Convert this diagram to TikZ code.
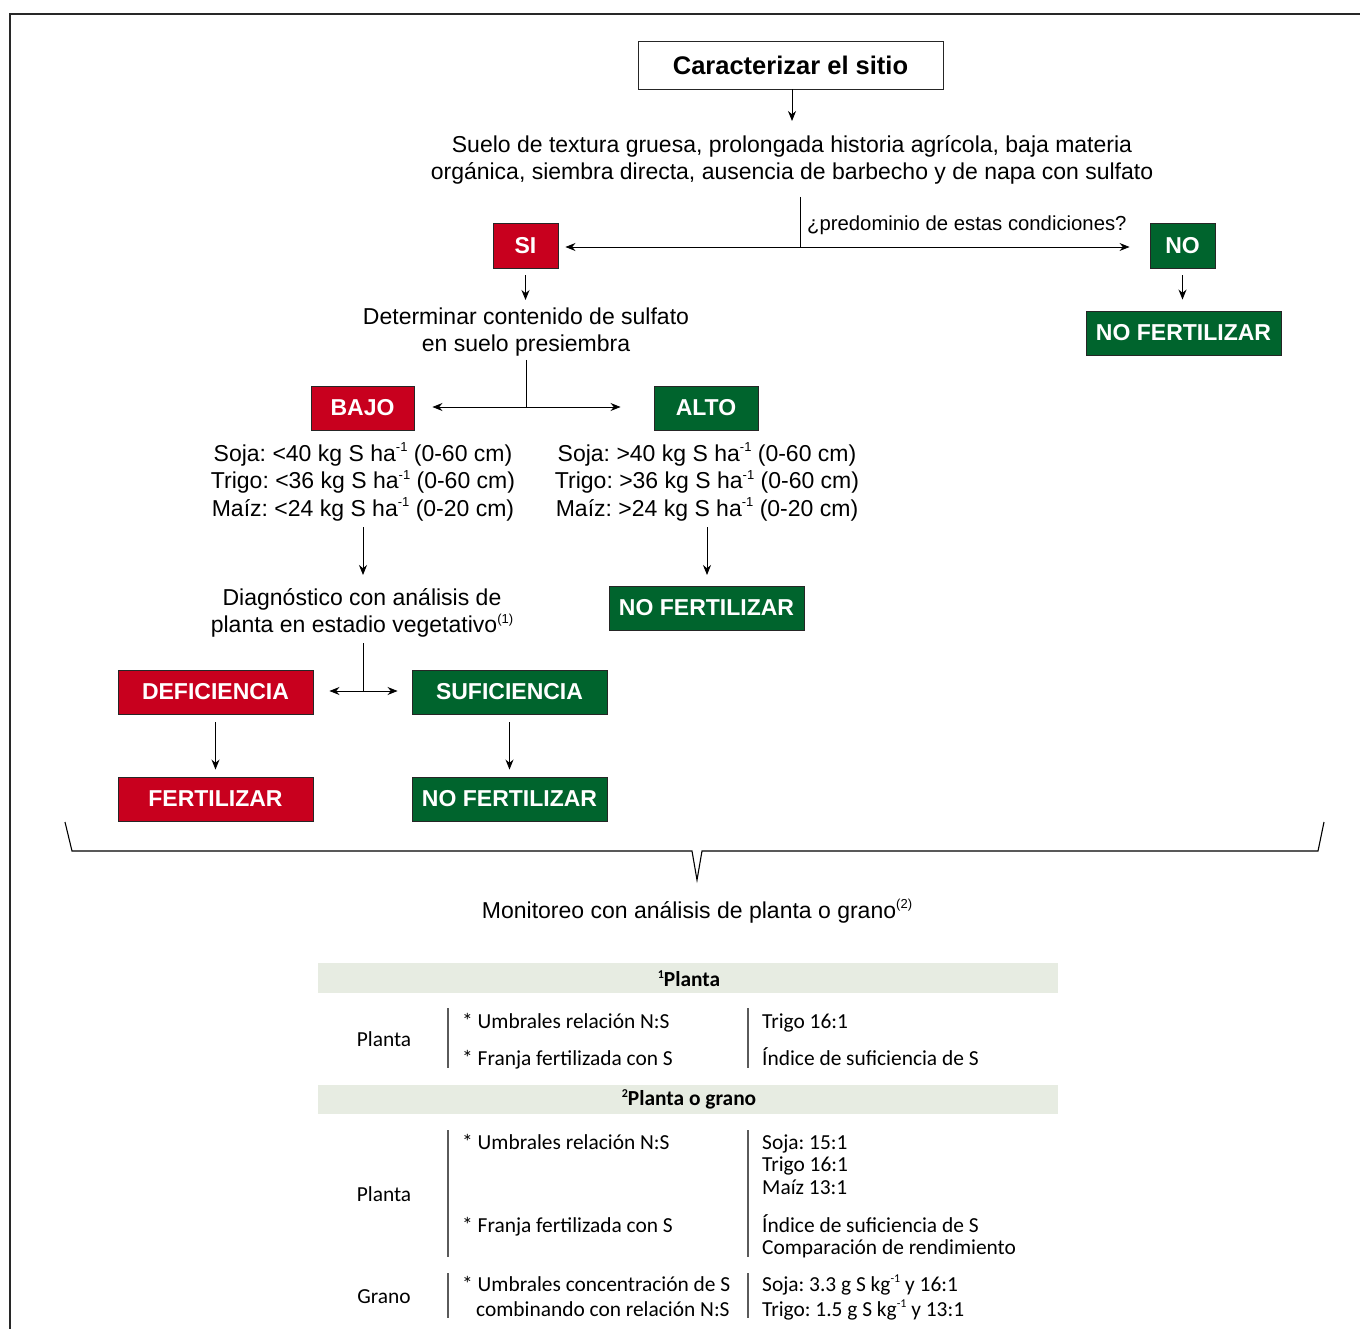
\documentclass[tikz,border=0pt]{standalone}
\usepackage{fontspec}
\setmainfont{Liberation Sans}
\newfontfamily\tabfont{Carlito}
\usetikzlibrary{arrows.meta}
\frenchspacing
\newcommand\supa[2][13]{\raisebox{0.8ex}{\fontsize{#1}{#1}\selectfont #2}}
\definecolor{rojo}{RGB}{200,0,30}
\definecolor{verde}{RGB}{0,100,45}
\definecolor{banda}{RGB}{231,236,226}
\definecolor{marco}{RGB}{40,40,40}
\definecolor{tabline}{RGB}{90,90,90}
\tikzset{
  boxbase/.style={draw=black!85, line width=0.9pt, inner sep=0pt, font=\fontsize{23}{27}\selectfont\bfseries},
  redbox/.style={boxbase, fill=rojo, text=white},
  greenbox/.style={boxbase, fill=verde, text=white},
  whitebox/.style={boxbase, fill=white, text=black, font=\fontsize{25.5}{30}\selectfont\bfseries},
  txt/.style={align=center, inner sep=0pt, font=\fontsize{23}{27.5}\selectfont},
  arr/.style={line width=0.9pt, -{Stealth[length=10pt,width=8pt]}},
  darr/.style={line width=0.9pt, {Stealth[length=10pt,width=8pt]}-{Stealth[length=10pt,width=8pt]}},
  plain/.style={line width=0.9pt},
  tb/.style={inner sep=0pt, font=\tabfont\fontsize{21.4}{22.6}\selectfont, align=left},
  tbc/.style={inner sep=0pt, font=\tabfont\fontsize{21.4}{22.6}\selectfont},
  tbh/.style={inner sep=0pt, font=\tabfont\fontsize{21.4}{22.6}\selectfont\bfseries},
  vl/.style={draw=tabline, line width=1.1pt},
}
\begin{document}
\begin{tikzpicture}[x=1pt,y=-1pt]
\useasboundingbox (0,0) rectangle (1360,1329);
% frame
\draw[marco, line width=1.5pt] (10,1329) -- (10,14) -- (1360,14);

% top
\node[whitebox, minimum width=305pt, minimum height=48pt] (car) at (790.5,65) {Caracterizar el sitio};
\coordinate (a1) at (792,121);
\draw[arr] (car.south -| a1) -- (a1);
\node[txt] (suelo) at (792,160) {Suelo de textura gruesa, prolongada historia agrícola, baja materia\\orgánica, siembra directa, ausencia de barbecho y de napa con sulfato};

\node[redbox, minimum width=65pt, minimum height=45pt] (si) at (525.5,245.5) {SI};
\node[greenbox, minimum width=65pt, minimum height=45pt] (no) at (1182.5,245.5) {NO};
\coordinate (qt) at (800,197);
\coordinate (qb) at (800,247);
\draw[plain] (qt) -- (qb);
\draw[darr, shorten <=7pt, shorten >=20pt] (si.east |- qb) -- (no.west |- qb);
\node[txt, anchor=south west, font=\fontsize{20.3}{24}\selectfont] (pred) at (807,235) {¿predominio de estas condiciones?};

\node[greenbox, minimum width=195pt, minimum height=44pt] (nf1) at (1183.5,333) {NO FERTILIZAR};
\draw[arr, shorten <=7pt, shorten >=11pt] (no.south) -- (no.south |- nf1.north);

\node[txt] (det) at (526,332) {Determinar contenido de sulfato\\en suelo presiembra};
\draw[arr, shorten <=7pt] (si.south) -- (525.5,300);

\node[redbox, minimum width=103pt, minimum height=44pt] (bajo) at (362.5,408) {BAJO};
\node[greenbox, minimum width=104pt, minimum height=44pt] (alto) at (706,408) {ALTO};
\coordinate (dt) at (526,360);
\coordinate (db) at (526,407);
\draw[plain] (dt) -- (db);
\draw[darr, shorten <=18pt, shorten >=33pt] (bajo.east |- db) -- (alto.west |- db);

\node[txt] (tbajo) at (363,482) {Soja: <40 kg S ha\supa{-1} (0-60 cm)\\Trigo: <36 kg S ha\supa{-1} (0-60 cm)\\Maíz: <24 kg S ha\supa{-1} (0-20 cm)};
\node[txt] (talto) at (707,482) {Soja: >40 kg S ha\supa{-1} (0-60 cm)\\Trigo: >36 kg S ha\supa{-1} (0-60 cm)\\Maíz: >24 kg S ha\supa{-1} (0-20 cm)};

\node[greenbox, minimum width=195pt, minimum height=44pt] (nf2) at (706.5,608) {NO FERTILIZAR};
\draw[arr] (707,527) -- (707,575);

\node[txt] (diag) at (362,613) {Diagnóstico con análisis de\\planta en estadio vegetativo\supa{(1)}};
\draw[arr] (363,527) -- (363,575);

\node[redbox, minimum width=195pt, minimum height=44pt] (def) at (215.5,692) {DEFICIENCIA};
\node[greenbox, minimum width=195pt, minimum height=44pt] (suf) at (509.5,692) {SUFICIENCIA};
\coordinate (et) at (363,643);
\coordinate (eb) at (363,691);
\draw[plain] (et) -- (eb);
\draw[darr, shorten <=16pt, shorten >=14pt] (def.east |- eb) -- (suf.west |- eb);

\node[redbox, minimum width=195pt, minimum height=44pt] (fert) at (215.5,799) {FERTILIZAR};
\node[greenbox, minimum width=195pt, minimum height=44pt] (nf3) at (509.5,799) {NO FERTILIZAR};
\draw[arr, shorten <=8pt, shorten >=7pt] (def.south) -- (fert.north);
\draw[arr, shorten <=8pt, shorten >=7pt] (suf.south) -- (nf3.north);

% brace
\coordinate (bl) at (65,822);
\coordinate (br) at (1324,822);
\coordinate (tip) at (697,880);
\draw[line width=1.1pt, line join=miter] (bl) -- (72,851) -- (692,851) -- (tip) -- (702,851) -- (1318,851) -- (br);
\node[txt] (moni) at (697,911) {Monitoreo con análisis de planta o grano\supa{(2)}};

% table
\fill[banda] (318,963) rectangle (1058,993);
\node[tbh] (h1) at (689,978.5) {\supa[12]{1}Planta};
\node[tbc] (p1) at (384,1039) {Planta};
\draw[vl] (448,1008) -- (448,1068);
\draw[vl] (748,1008) -- (748,1068);
\node[tb, anchor=base west] (r1a) at (462,1028) {* Umbrales relación N:S};
\node[tb, anchor=base west] (r1b) at (462,1065) {* Franja fertilizada con S};
\node[tb, anchor=base west] (r1c) at (762,1028) {Trigo 16:1};
\node[tb, anchor=base west] (r1d) at (762,1065) {Índice de suficiencia de S};

\fill[banda] (318,1085) rectangle (1058,1114);
\node[tbh] (h2) at (689,1099.5) {\supa[12]{2}Planta o grano};
\node[tbc] (p2) at (384,1194) {Planta};
\draw[vl] (448,1130) -- (448,1257);
\draw[vl] (748,1130) -- (748,1257);
\node[tb, anchor=base west] (r2a) at (462,1149) {* Umbrales relación N:S};
\node[tb, anchor=base west] (r2b) at (462,1232) {* Franja fertilizada con S};
\node[tb, anchor=base west] (r2c1) at (762,1149) {Soja: 15:1};
\node[tb, anchor=base west] (r2c2) at (762,1171.5) {Trigo 16:1};
\node[tb, anchor=base west] (r2c3) at (762,1194) {Maíz 13:1};
\node[tb, anchor=base west] (r2d1) at (762,1232) {Índice de suficiencia de S};
\node[tb, anchor=base west] (r2d2) at (762,1254.5) {Comparación de rendimiento};

\node[tbc] (g) at (384,1297) {Grano};
\draw[vl] (448,1273) -- (448,1318);
\draw[vl] (748,1273) -- (748,1318);
\node[tb, anchor=base west] (r3a) at (462,1291) {* Umbrales concentración de S};
\node[tb, anchor=base west] (r3b) at (476,1316) {combinando con relación N:S};
\node[tb, anchor=base west] (r3c) at (762,1291) {Soja: 3.3 g S kg\supa[12]{-1} y 16:1};
\node[tb, anchor=base west] (r3d) at (762,1316) {Trigo: 1.5 g S kg\supa[12]{-1} y 13:1};
\end{tikzpicture}
\end{document}
